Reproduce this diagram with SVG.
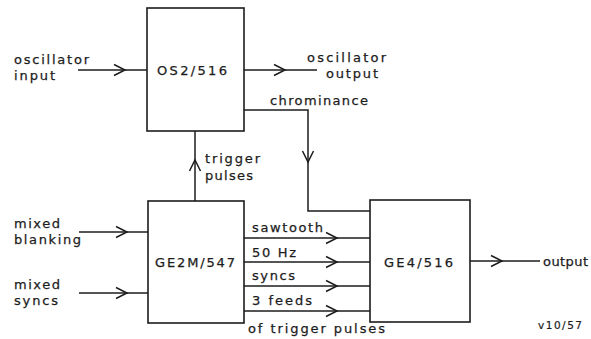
<svg xmlns="http://www.w3.org/2000/svg" width="591" height="339" viewBox="0 0 591 339">
<defs>
<style>
.box{fill:#fff;stroke:#1c1c1c;stroke-width:1.6}
.ln{fill:none;stroke:#1c1c1c;stroke-width:1.5}
.t{font-family:"DejaVu Sans",sans-serif;font-size:13px;fill:#1c1c1c;stroke:#1c1c1c;stroke-width:0.25}
.s{font-family:"DejaVu Sans",sans-serif;font-size:10.5px;fill:#1c1c1c;stroke:#1c1c1c;stroke-width:0.2}
</style>
<marker id="ah" viewBox="-12 -7 14 14" markerWidth="14" markerHeight="14" refX="0" refY="0" orient="auto" markerUnits="userSpaceOnUse">
<path d="M-11,-5.5 L0,0 L-11,5.5" fill="none" stroke="#1c1c1c" stroke-width="1.5"/>
</marker>
</defs>
<rect width="591" height="339" fill="#fff"/>
<g id="connectors">
<path class="ln" d="M78,70 H125" marker-end="url(#ah)"/><path class="ln" d="M125,70 H147"/>
<path class="ln" d="M244,70 H285" marker-end="url(#ah)"/><path class="ln" d="M285,70 H317"/>
<path class="ln" d="M244,110 H308 V162" marker-end="url(#ah)"/><path class="ln" d="M308,162 V211 H370"/>
<path class="ln" d="M195,201 V160" marker-end="url(#ah)"/><path class="ln" d="M195,160 V131"/>
<path class="ln" d="M79,232 H127" marker-end="url(#ah)"/><path class="ln" d="M127,232 H148"/>
<path class="ln" d="M79,293 H127" marker-end="url(#ah)"/><path class="ln" d="M127,293 H148"/>
<path class="ln" d="M244,238 H337" marker-end="url(#ah)"/><path class="ln" d="M337,238 H370"/>
<path class="ln" d="M244,262 H337" marker-end="url(#ah)"/><path class="ln" d="M337,262 H370"/>
<path class="ln" d="M244,286 H337" marker-end="url(#ah)"/><path class="ln" d="M337,286 H370"/>
<path class="ln" d="M244,311 H337" marker-end="url(#ah)"/><path class="ln" d="M337,311 H370"/>
<path class="ln" d="M470,261 H502" marker-end="url(#ah)"/><path class="ln" d="M502,261 H540"/>
</g>
<g id="os2">
<rect class="box" x="147" y="8" width="97" height="123"/>
<text class="t" x="157" y="75" textLength="70" lengthAdjust="spacing">OS2/516</text>
</g>
<g id="ge2m">
<rect class="box" x="148" y="201" width="96" height="122"/>
<text class="t" x="155" y="267" textLength="80" lengthAdjust="spacing">GE2M/547</text>
</g>
<g id="ge4">
<rect class="box" x="370" y="200" width="100" height="122"/>
<text class="t" x="384" y="267" textLength="69" lengthAdjust="spacing">GE4/516</text>
</g>
<g id="labels">
<text class="t" x="14" y="64" textLength="75" lengthAdjust="spacing">oscillator</text>
<text class="t" x="14" y="80" textLength="41" lengthAdjust="spacing">input</text>
<text class="t" x="307" y="62" textLength="79" lengthAdjust="spacing">oscillator</text>
<text class="t" x="326" y="78" textLength="52" lengthAdjust="spacing">output</text>
<text class="t" x="270" y="105" textLength="98" lengthAdjust="spacing">chrominance</text>
<text class="t" x="205" y="163" textLength="55" lengthAdjust="spacing">trigger</text>
<text class="t" x="205" y="180" textLength="48" lengthAdjust="spacing">pulses</text>
<text class="t" x="14" y="228" textLength="46" lengthAdjust="spacing">mixed</text>
<text class="t" x="14" y="244" textLength="67" lengthAdjust="spacing">blanking</text>
<text class="t" x="14" y="289" textLength="46" lengthAdjust="spacing">mixed</text>
<text class="t" x="14" y="305" textLength="44" lengthAdjust="spacing">syncs</text>
<text class="t" x="252" y="232" textLength="71" lengthAdjust="spacing">sawtooth</text>
<text class="t" x="252" y="257" textLength="44" lengthAdjust="spacing">50 Hz</text>
<text class="t" x="252" y="280" textLength="43" lengthAdjust="spacing">syncs</text>
<text class="t" x="252" y="305" textLength="60" lengthAdjust="spacing">3 feeds</text>
<text class="t" x="248" y="333" textLength="137" lengthAdjust="spacing">of trigger pulses</text>
<text class="t" x="543" y="266" textLength="45" lengthAdjust="spacing">output</text>
<text class="s" x="538" y="329" textLength="44" lengthAdjust="spacing">v10/57</text>
</g>
</svg>
